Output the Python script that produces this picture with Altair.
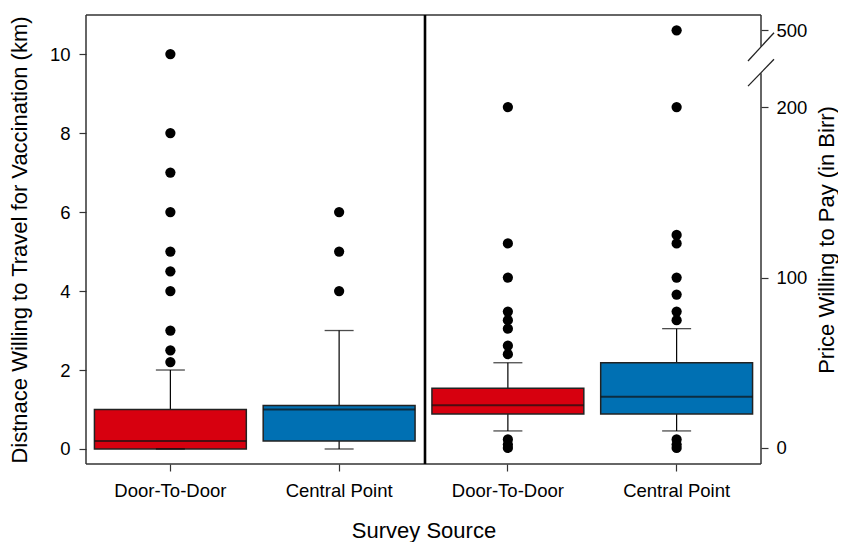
import altair as alt
import pandas as pd

# ---------------- data ----------------
categories = ["Door-To-Door", "Central Point"]

# Distance willing to travel (km)
dist_low = [0.0, 0.0]
dist_q1 = [0.0, 0.2]
dist_median = [0.2, 1.0]
dist_q3 = [1.0, 1.1]
dist_high = [2.0, 3.0]
dist_outliers_d2d = [2.2, 2.5, 3, 4, 4.5, 5, 6, 7, 8, 10]
dist_outliers_cp = [4, 5, 6]

# Price willing to pay (Birr)
price_low = [10, 10]
price_q1 = [20, 20]
price_median = [25, 30]
price_q3 = [35, 50]
price_high = [50, 70]
price_outliers_d2d = [0, 2, 5, 55, 60, 70, 75, 80, 100, 120, 200]
price_outliers_cp = [0, 2, 5, 75, 80, 90, 100, 120, 125, 200, 500]

# broken price axis: values above 200 are drawn at a compressed position
break_value = 500
break_pos = 245
price_ticks = [0, 100, 200, break_pos]

colors = ["#D7000F", "#0070B3"]

# ---------------- tables ----------------
dkeys = [c + " (distance)" for c in categories]
pkeys = [c + " (price)" for c in categories]
x_domain = dkeys + pkeys

dist_df = pd.DataFrame({"key": dkeys, "low": dist_low, "q1": dist_q1,
                        "median": dist_median, "q3": dist_q3, "high": dist_high})
price_df = pd.DataFrame({"key": pkeys, "low": price_low, "q1": price_q1,
                         "median": price_median, "q3": price_q3, "high": price_high})
dist_out = pd.DataFrame({
    "key": [dkeys[0]] * len(dist_outliers_d2d) + [dkeys[1]] * len(dist_outliers_cp),
    "value": dist_outliers_d2d + dist_outliers_cp})
price_out = pd.DataFrame({
    "key": [pkeys[0]] * len(price_outliers_d2d) + [pkeys[1]] * len(price_outliers_cp),
    "value": price_outliers_d2d + price_outliers_cp})

W, H = 675, 449
FONT = "Liberation Sans"
LBL = 18.5
TTL = 22

x_enc = alt.X("key:N", sort=None,
              scale=alt.Scale(domain=x_domain, paddingInner=0.1, paddingOuter=0.05),
              axis=alt.Axis(title="Survey Source", labelExpr="split(datum.value, ' (')[0]",
                            labelAngle=0, labelFontSize=LBL, labelFont=FONT, labelColor="black",
                            labelPadding=10, tickSize=7, tickColor="#333", tickWidth=1.2,
                            domain=False, titleFontSize=TTL, titleFont=FONT,
                            titleFontWeight="normal", titleColor="black", titlePadding=21))

color_enc = alt.Color("key:N", scale=alt.Scale(domain=x_domain, range=colors + colors), legend=None)

dist_scale = alt.Scale(domain=[-0.38, 10.99], nice=False, zero=False)
dist_axis = alt.Axis(title="Distnace Willing to Travel for Vaccination (km)", orient="left",
                     values=[0, 2, 4, 6, 8, 10], grid=False, domain=False,
                     tickSize=7, tickColor="#333", tickWidth=1.2, labelFontSize=LBL,
                     labelFont=FONT, labelColor="black", labelPadding=9,
                     titleFontSize=TTL, titleFont=FONT, titleFontWeight="normal",
                     titleColor="black", titlePadding=18)

price_scale = alt.Scale(domain=[-9.4, 254], nice=False, zero=False)
price_axis = alt.Axis(title="Price Willing to Pay (in Birr)", orient="right",
                      values=price_ticks, grid=False, domain=False,
                      labelExpr=f"datum.value == {break_pos} ? '{break_value}' : datum.label",
                      tickSize=7, tickColor="#333", tickWidth=1.2, labelFontSize=LBL,
                      labelFont=FONT, labelColor="black", labelPadding=8,
                      titleFontSize=TTL, titleFont=FONT, titleFontWeight="normal",
                      titleColor="black", titlePadding=10, titleAngle=270,
                      titleBaseline="top")


def yd(f):
    return alt.Y(f, scale=dist_scale, axis=dist_axis)


def yp(f):
    return alt.Y(f, scale=price_scale, axis=price_axis)


def panel(df, out, yfun, out_calc):
    base = alt.Chart(df)
    whisk_hi = base.mark_rule(color="black", strokeWidth=1.2).encode(x=x_enc, y=yfun("q3:Q"), y2="high:Q")
    whisk_lo = base.mark_rule(color="black", strokeWidth=1.2).encode(x=x_enc, y=yfun("low:Q"), y2="q1:Q")
    box = base.mark_bar(stroke="#222", strokeWidth=1.5).encode(
        x=x_enc, y=yfun("q1:Q"), y2="q3:Q", color=color_enc)
    med = base.mark_tick(color="#111", size=152, thickness=2).encode(x=x_enc, y=yfun("median:Q"))
    cap_hi = base.mark_tick(color="black", size=29, thickness=1.3).encode(x=x_enc, y=yfun("high:Q"))
    cap_lo = base.mark_tick(color="black", size=29, thickness=1.3).encode(x=x_enc, y=yfun("low:Q"))
    pts_base = alt.Chart(out)
    if out_calc:
        pts_base = pts_base.transform_calculate(pos=out_calc)
        fld = "pos:Q"
    else:
        fld = "value:Q"
    pts = pts_base.mark_circle(color="black", opacity=1, size=105).encode(x=x_enc, y=yfun(fld))
    return [whisk_hi, whisk_lo, box, med, cap_hi, cap_lo, pts]


left_layers = panel(dist_df, dist_out, yd, None)
right_layers = panel(price_df, price_out, yp,
                     f"datum.value > 200 ? {break_pos} : datum.value")

# frame and axis-break decorations (price units for the broken right edge)
frame_right = pd.DataFrame({"y1": [-9.4, 235.4], "y2": [219.8, 254]})
slashes = pd.DataFrame({"y1": [227.0, 212.3], "y2": [243.6, 228.0]})

right_edge = alt.Chart(frame_right).mark_rule(color="#333", strokeWidth=1.5).encode(
    x=alt.value(W), y=yp("y1:Q"), y2="y2:Q")
slash = alt.Chart(slashes).mark_rule(color="#222", strokeWidth=1.3).encode(
    x=alt.value(W - 13), x2=alt.value(W + 13), y=yp("y1:Q"), y2="y2:Q")
right_layers += [right_edge, slash]

frame = pd.DataFrame({"i": [0]})
top = alt.Chart(frame).mark_rule(color="#333", strokeWidth=1.5).encode(
    x=alt.value(0), x2=alt.value(W), y=alt.value(0))
bottom = alt.Chart(frame).mark_rule(color="#333", strokeWidth=1.5).encode(
    x=alt.value(0), x2=alt.value(W), y=alt.value(H))
left_edge = alt.Chart(frame).mark_rule(color="#333", strokeWidth=1.5).encode(
    x=alt.value(0), y=alt.value(0), y2=alt.value(H))
middle = alt.Chart(frame).mark_rule(color="black", strokeWidth=2.6).encode(
    x=alt.value(339), y=alt.value(0), y2=alt.value(H))
left_layers += [top, bottom, left_edge, middle]

left = alt.layer(*left_layers)
right = alt.layer(*right_layers)

chart = alt.layer(left, right).resolve_scale(y="independent").properties(
    width=W, height=H, padding={"left": 0, "top": 5, "right": 0, "bottom": 0}
).configure_view(stroke=None)

chart.save("out.html", embed_options={"renderer": "svg", "actions": False})
